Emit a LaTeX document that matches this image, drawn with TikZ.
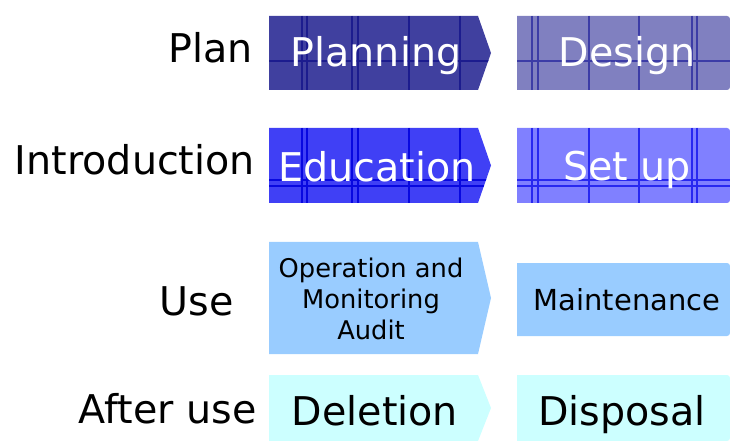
\documentclass[tikz,border=0pt]{standalone}
\usepackage{fontspec}
\setmainfont{DejaVu Sans}
\usepackage{tikz}
\pgfdeclarelayer{edgelayer}
\pgfdeclarelayer{nodelayer}
\pgfsetlayers{edgelayer,nodelayer,main}
\definecolor{planfill}{HTML}{40409F}
\definecolor{planline}{HTML}{1C1C8E}
\definecolor{designfill}{HTML}{8080C0}
\definecolor{designline}{HTML}{3C3CA6}
\definecolor{edufill}{HTML}{4040F5}
\definecolor{eduline}{HTML}{0808E0}
\definecolor{setfill}{HTML}{8080FF}
\definecolor{setline}{HTML}{2828F0}
\definecolor{usefill}{HTML}{99CCFF}
\definecolor{afterfill}{HTML}{CCFFFF}
\tikzstyle{none} = []
\tikzstyle{phase} = [anchor=base east, inner sep=0, font=\fontsize{29.7}{35}\selectfont]
\tikzstyle{big white} = [anchor=base, inner sep=0, text=white, font=\fontsize{29.7}{35}\selectfont]
\tikzstyle{big black} = [anchor=base, inner sep=0, font=\fontsize{29.7}{35}\selectfont]
\tikzstyle{mid black} = [anchor=base, inner sep=0, font=\fontsize{21.7}{26}\selectfont]
\tikzstyle{small black} = [inner sep=0, align=center, font=\fontsize{19.3}{23.5}\selectfont]
\tikzstyle{grid line} = [line width=0.9pt]
% left column: box with a point, right column: box with round right side
\newcommand{\arrowpath}[2]{(269,#1) -- (478,#1) -- (491,{(#1+#2)/2}) -- (478,#2) -- (269,#2) -- cycle}
\newcommand{\boxpath}[2]{(517,#1) -- (727,#1) arc[start angle=-90, end angle=0, radius=3] -- (730,{#2-3}) arc[start angle=0, end angle=90, radius=3] -- (517,#2) -- cycle}

\begin{document}
\begin{tikzpicture}[x=0.75pt, y=-0.75pt]
	\useasboundingbox (0,0) rectangle (730,441);
	\begin{pgfonlayer}{edgelayer}
		\fill [planfill] \arrowpath{16}{90};
		\begin{scope}
			\clip \arrowpath{16}{90};
			\draw [style=grid line, planline] (302,16) -- (302,90);
			\draw [style=grid line, planline] (307,16) -- (307,90);
			\draw [style=grid line, planline] (352,16) -- (352,90);
			\draw [style=grid line, planline] (358,16) -- (358,90);
			\draw [style=grid line, planline] (409,16) -- (409,90);
			\draw [style=grid line, planline] (460,16) -- (460,90);
			\draw [style=grid line, planline] (269,61) -- (495,61);
		\end{scope}
		\fill [designfill] \boxpath{16}{90};
		\begin{scope}
			\clip \boxpath{16}{90};
			\draw [style=grid line, designline] (532,16) -- (532,90);
			\draw [style=grid line, designline] (538,16) -- (538,90);
			\draw [style=grid line, designline] (589,16) -- (589,90);
			\draw [style=grid line, designline] (639,16) -- (639,90);
			\draw [style=grid line, designline] (692,16) -- (692,90);
			\draw [style=grid line, designline] (697,16) -- (697,90);
			\draw [style=grid line, designline] (517,61) -- (730,61);
		\end{scope}
		\fill [edufill] \arrowpath{128}{203};
		\begin{scope}
			\clip \arrowpath{128}{203};
			\draw [style=grid line, eduline] (302,128) -- (302,203);
			\draw [style=grid line, eduline] (307,128) -- (307,203);
			\draw [style=grid line, eduline] (352,128) -- (352,203);
			\draw [style=grid line, eduline] (358,128) -- (358,203);
			\draw [style=grid line, eduline] (409,128) -- (409,203);
			\draw [style=grid line, eduline] (460,128) -- (460,203);
			\draw [style=grid line, eduline] (269,180) -- (495,180);
			\draw [style=grid line, eduline] (269,186) -- (495,186);
		\end{scope}
		\fill [setfill] \boxpath{128}{203};
		\begin{scope}
			\clip \boxpath{128}{203};
			\draw [style=grid line, setline] (532,128) -- (532,203);
			\draw [style=grid line, setline] (538,128) -- (538,203);
			\draw [style=grid line, setline] (589,128) -- (589,203);
			\draw [style=grid line, setline] (639,128) -- (639,203);
			\draw [style=grid line, setline] (692,128) -- (692,203);
			\draw [style=grid line, setline] (697,128) -- (697,203);
			\draw [style=grid line, setline] (517,180) -- (730,180);
			\draw [style=grid line, setline] (517,186) -- (730,186);
		\end{scope}
		\fill [usefill] \arrowpath{242}{354};
		\fill [usefill] \boxpath{263}{336};
		\fill [afterfill] \arrowpath{375}{441};
		\fill [afterfill] \boxpath{375}{441};
	\end{pgfonlayer}
	\begin{pgfonlayer}{nodelayer}
		\node [style=phase] (0) at (253,63) {Plan};
		\node [style=phase] (1) at (255,175) {Introduction};
		\node [style=phase] (2) at (234,315) {Use};
		\node [style=phase] (3) at (257,423) {After use};
		\node [style=big white] (4) at (376,67) {Planning};
		\node [style=big white] (5) at (627,67) {Design};
		\node [style=big white] (6) at (377,182) {Education};
		\node [style=big white] (7) at (627,181) {Set up};
		\node [style=small black] (8) at (371,299) {Operation and\\Monitoring\\Audit};
		\node [style=mid black] (9) at (627,310) {Maintenance};
		\node [style=big black] (10) at (375,425) {Deletion};
		\node [style=big black] (11) at (622,425) {Disposal};
	\end{pgfonlayer}
\end{tikzpicture}
\end{document}
